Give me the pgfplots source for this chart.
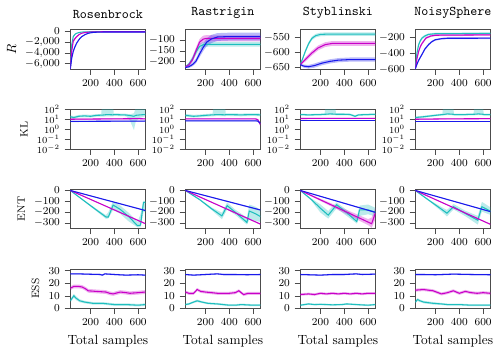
\documentclass[border=0pt]{standalone}
\usepackage{pgfplots}
\pgfplotsset{compat=1.18}
\usepackage{pgfplotstable}
\usepgfplotslibrary{groupplots,fillbetween}

\definecolor{cB}{RGB}{25,25,235}
\definecolor{cM}{RGB}{200,0,200}
\definecolor{cC}{RGB}{30,190,190}

% mean line with shaded band: colour, table, id
\newcommand{\band}[3]{%
  \addplot[draw=none, name path=#3hi, forget plot] table[x=x,y=hi]{#2};
  \addplot[draw=none, name path=#3lo, forget plot] table[x=x,y=lo]{#2};
  \addplot[fill=#1, fill opacity=0.3, draw=none, forget plot] fill between[of=#3hi and #3lo];
  \addplot[#1, line width=0.8pt, forget plot] table[x=x,y=y]{#2};
}

\begin{document}
% ---------- R ----------
\pgfplotstableread{
x y lo hi
30 -7000 -7000 -7000
42 -2500 -2900 -2100
55 -950 -1150 -780
70 -500 -600 -400
84 -320 -390 -250
105 -180 -230 -130
126 -100 -140 -70
160 -60 -85 -40
200 -40 -60 -25
300 -30 -45 -15
660 -30 -45 -15
}\RoC
\pgfplotstableread{
x y lo hi
30 -7000 -7000 -7000
42 -3700 -4100 -3300
55 -1800 -2100 -1500
70 -1300 -1500 -1100
84 -950 -1100 -800
105 -550 -650 -450
126 -320 -390 -260
155 -180 -230 -140
181 -120 -160 -90
220 -70 -95 -50
300 -40 -60 -25
660 -35 -55 -20
}\RoM
\pgfplotstableread{
x y lo hi
30 -7000 -7000 -7000
42 -5000 -5300 -4700
55 -3700 -4000 -3400
70 -2800 -3050 -2550
84 -2150 -2350 -1950
105 -1450 -1600 -1300
126 -950 -1050 -850
155 -560 -640 -490
181 -320 -380 -270
220 -170 -210 -135
265 -100 -130 -75
350 -80 -105 -60
660 -80 -105 -60
}\RoB
\pgfplotstableread{
x y lo hi
30 -225 -228 -222
60 -212 -220 -204
90 -188 -200 -176
120 -155 -170 -140
150 -130 -145 -116
180 -122 -134 -110
220 -120 -131 -109
660 -120 -131 -109
}\RaC
\pgfplotstableread{
x y lo hi
30 -225 -228 -222
60 -215 -222 -208
90 -192 -203 -180
120 -150 -165 -135
150 -110 -125 -95
180 -96 -112 -80
210 -92 -108 -77
260 -92 -106 -78
660 -92 -106 -78
}\RaM
\pgfplotstableread{
x y lo hi
30 -228 -231 -225
60 -224 -230 -218
90 -214 -222 -206
120 -198 -208 -186
150 -165 -180 -150
180 -135 -152 -118
210 -110 -128 -92
250 -95 -114 -76
300 -86 -104 -68
400 -84 -102 -66
660 -84 -102 -66
}\RaB
\pgfplotstableread{
x y lo hi
30 -640 -643 -637
50 -620 -625 -615
72 -596 -602 -590
100 -570 -576 -564
128 -552 -558 -546
160 -543 -549 -537
200 -539 -545 -533
250 -538 -544 -532
660 -538 -544 -532
}\StC
\pgfplotstableread{
x y lo hi
30 -640 -643 -637
72 -623 -630 -616
128 -601 -609 -593
180 -584 -592 -576
240 -573 -581 -565
300 -569 -577 -561
660 -569 -577 -561
}\StM
\pgfplotstableread{
x y lo hi
30 -640 -643 -637
60 -645 -650 -640
100 -647 -653 -641
150 -643 -650 -636
212 -635 -642 -628
280 -629 -636 -622
350 -625 -632 -618
450 -623 -630 -616
660 -623 -630 -616
}\StB
\pgfplotstableread{
x y lo hi
30 -600 -600 -600
44 -400 -430 -370
58 -296 -320 -272
72 -245 -265 -225
86 -212 -230 -195
110 -185 -200 -170
140 -165 -178 -152
200 -155 -167 -143
660 -152 -164 -140
}\NoC
\pgfplotstableread{
x y lo hi
30 -600 -600 -600
44 -470 -490 -450
58 -380 -400 -360
72 -320 -338 -302
86 -280 -296 -264
120 -210 -224 -196
160 -185 -197 -173
200 -175 -187 -163
660 -170 -182 -158
}\NoM
\pgfplotstableread{
x y lo hi
30 -600 -600 -600
44 -540 -555 -525
58 -490 -505 -475
86 -417 -432 -402
110 -350 -365 -335
142 -292 -305 -279
170 -255 -267 -243
198 -232 -243 -221
250 -218 -229 -207
300 -213 -224 -202
660 -212 -223 -201
}\NoB
% ---------- KL ----------
\pgfplotstableread{
x y lo hi
30 18 12 25
60 15 11 21
100 20 15 27
150 22 16 30
200 20 15 28
250 25 18 33
290 26 18 33
294 26 18 150
340 30 20 150
391 28 20 150
395 30 22 40
500 27 20 36
530 24 8 32
565 20 0.8 40
580 25 6 150
620 28 15 150
660 30 20 150
}\KRoC
\pgfplotstableread{
x y lo hi
30 10 8.5 12
200 10.5 9 12.5
400 11 9.5 13
600 11.5 9.5 14
660 11 9.5 13
}\KRoM
\pgfplotstableread{
x y lo hi
30 6 5.2 6.9
300 6.3 5.5 7.2
660 6.5 5.6 7.5
}\KRoB
\pgfplotstableread{
x y lo hi
30 25 18 35
100 20 15 28
150 22 16 30
200 25 18 34
260 28 20 38
265 28 20 150
300 30 22 150
366 28 20 150
370 30 22 40
500 28 20 38
600 30 22 40
660 28 20 38
}\KRaC
\pgfplotstableread{
x y lo hi
30 11 9.5 12.5
300 11 9.5 12.5
620 11 9.5 12.5
640 9 7 11
660 3 2 4.5
}\KRaM
\pgfplotstableread{
x y lo hi
30 7 6 8
620 7 6 8
640 6.5 5.5 7.5
660 4 3.3 5
}\KRaB
\pgfplotstableread{
x y lo hi
30 30 24 38
100 28 22 35
200 30 24 38
235 32 25 40
240 32 25 150
280 35 27 150
325 33 26 150
330 32 25 40
400 32 25 40
450 30 24 38
490 20 16 26
520 28 22 35
600 30 24 38
660 32 25 40
}\KStC
\pgfplotstableread{
x y lo hi
30 12 10.5 13.5
660 12.5 11 14
}\KStM
\pgfplotstableread{
x y lo hi
30 7 6.2 7.9
660 7 6.2 7.9
}\KStB
\pgfplotstableread{
x y lo hi
30 15 12 19
100 18 14 23
200 25 20 32
258 30 24 38
263 30 24 150
300 35 27 150
350 32 25 150
355 30 24 38
450 30 24 38
520 32 25 40
525 32 25 150
560 35 27 150
600 32 25 150
605 30 24 38
660 30 24 38
}\KNoC
\pgfplotstableread{
x y lo hi
30 10 8.5 12
300 11 9.5 13
660 11.5 10 13
}\KNoM
\pgfplotstableread{
x y lo hi
30 6 5.3 6.8
660 6 5.3 6.8
}\KNoB
% ---------- ENT ----------
\pgfplotstableread{
x y lo hi
30 0 -3 3
660 -185 -190 -180
}\ERoB
\pgfplotstableread{
x y lo hi
30 0 -3 3
660 -306 -311 -301
}\ERoM
\pgfplotstableread{
x y lo hi
30 0 -3 3
150 -99 -106 -92
250 -181 -192 -170
330 -245 -262 -228
350 -245 -258 -200
390 -135 -180 -100
450 -175 -215 -140
520 -240 -285 -205
595 -325 -340 -290
620 -320 -340 -220
645 -110 -200 -95
660 -110 -200 -100
}\ERoC
\pgfplotstableread{
x y lo hi
30 0 -3 3
660 -180 -186 -174
}\ERaB
\pgfplotstableread{
x y lo hi
30 0 -3 3
660 -310 -315 -305
}\ERaM
\pgfplotstableread{
x y lo hi
30 0 -3 3
150 -84 -90 -78
250 -168 -180 -156
338 -235 -265 -205
382 -140 -175 -110
450 -201 -225 -178
548 -295 -315 -250
568 -190 -270 -130
620 -215 -280 -150
660 -240 -290 -180
}\ERaC
\pgfplotstableread{
x y lo hi
30 0 -3 3
660 -202 -208 -196
}\EStB
\pgfplotstableread{
x y lo hi
30 0 -3 3
600 -292 -320 -264
630 -307 -345 -250
660 -210 -270 -160
}\EStM
\pgfplotstableread{
x y lo hi
30 0 -3 3
120 -81 -90 -72
200 -165 -205 -130
265 -228 -260 -190
336 -132 -165 -110
420 -205 -235 -180
505 -287 -305 -250
528 -180 -235 -140
600 -180 -220 -130
660 -200 -240 -160
}\EStC
\pgfplotstableread{
x y lo hi
30 0 -3 3
660 -195 -200 -190
}\ENoB
\pgfplotstableread{
x y lo hi
30 0 -3 3
660 -312 -317 -307
}\ENoM
\pgfplotstableread{
x y lo hi
30 0 -3 3
150 -95 -102 -88
250 -173 -193 -153
296 -210 -240 -180
352 -150 -175 -125
450 -212 -237 -187
555 -275 -315 -235
590 -150 -195 -105
660 -190 -225 -155
}\ENoC
% ---------- ESS ----------
\pgfplotstableread{
x y lo hi
30 27.5 26.9 28.1
100 27.5 26.9 28.1
200 27.2 26.6 27.8
280 27 26.4 27.6
300 26.5 25.9 27.1
320 27.5 26.9 28.1
400 27 26.4 27.6
500 26.5 25.9 27.1
600 26.8 26.2 27.4
660 26.5 25.9 27.1
}\SRoB
\pgfplotstableread{
x y lo hi
30 16 14.5 17.5
60 17.5 16 19
100 17.5 16 19
130 17 15.5 18.5
160 15.5 14 17
180 14 12.5 15.5
250 13.5 12 15
330 13 11.5 14.5
360 12 10.5 13.5
390 11.5 10 13
450 13 11.5 14.5
500 12.5 11 14
530 12 10.5 13.5
600 12.5 11 14
660 13 11.5 14.5
}\SRoM
\pgfplotstableread{
x y lo hi
30 6 4.5 7.5
60 10 8.5 11.5
80 8 6.5 9.5
110 6 4.8 7.2
150 5 4 6
220 4 3 5
300 4 3 5
400 3 2 4
500 3 2 4
600 2.5 1.5 3.5
660 3 2 4
}\SRoC
\pgfplotstableread{
x y lo hi
30 27 26.4 27.6
100 26.5 25.9 27.1
200 27 26.4 27.6
300 27.5 26.9 28.1
350 27 26.4 27.6
450 27 26.4 27.6
550 26.8 26.2 27.4
660 27 26.4 27.6
}\SRaB
\pgfplotstableread{
x y lo hi
30 13 11.8 14.2
60 12 10.8 13.2
100 12 10.8 13.2
130 15 13.8 16.2
160 13.5 12.3 14.7
200 13 11.8 14.2
300 12 10.8 13.2
400 12 10.8 13.2
450 12.5 11.3 13.7
480 14 12.8 15.2
520 11 9.8 12.2
560 12 10.8 13.2
600 12 10.8 13.2
660 12 10.8 13.2
}\SRaM
\pgfplotstableread{
x y lo hi
30 3 2.2 3.8
60 3.5 2.7 4.3
100 5 4.2 5.8
130 6 5 7
170 5 4.2 5.8
220 4 3.2 4.8
300 3.5 2.7 4.3
400 2.5 1.7 3.3
450 2.5 1.7 3.3
500 3 2.2 3.8
600 2.5 1.7 3.3
660 2.5 1.7 3.3
}\SRaC
\pgfplotstableread{
x y lo hi
30 27 26.4 27.6
100 26.8 26.2 27.4
200 26.5 25.9 27.1
300 27 26.4 27.6
400 27 26.4 27.6
500 27.5 26.9 28.1
550 27 26.4 27.6
660 27.3 26.7 27.9
}\SStB
\pgfplotstableread{
x y lo hi
30 11 10 12
100 11.5 10.5 12.5
150 11 10 12
200 12 11 13
250 11.5 10.5 12.5
300 12 11 13
350 11.5 10.5 12.5
400 12 11 13
450 11.5 10.5 12.5
500 12 11 13
550 11.5 10.5 12.5
600 12 11 13
660 12 11 13
}\SStM
\pgfplotstableread{
x y lo hi
30 2.5 1.8 3.2
100 3.5 2.8 4.2
150 3 2.3 3.7
200 3.2 2.5 3.9
300 2.8 2.1 3.5
380 3 2.3 3.7
420 3.5 2.8 4.2
500 3 2.3 3.7
600 2.5 1.8 3.2
660 3 2.3 3.7
}\SStC
\pgfplotstableread{
x y lo hi
30 27 26.4 27.6
100 27 26.4 27.6
200 26.8 26.2 27.4
350 27.3 26.7 27.9
500 27 26.4 27.6
660 26.8 26.2 27.4
}\SNoB
\pgfplotstableread{
x y lo hi
30 14.5 13.3 15.7
100 15 13.8 16.2
140 14.5 13.3 15.7
180 14 12.8 15.2
250 11.5 10.3 12.7
300 12.5 11.3 13.7
350 14 12.8 15.2
400 12 10.8 13.2
450 13.5 12.3 14.7
500 12.5 11.3 13.7
550 12 10.8 13.2
600 12.5 11.3 13.7
660 12 10.8 13.2
}\SNoM
\pgfplotstableread{
x y lo hi
30 5 4 6
50 7 5.8 8.2
70 6 5 7
100 5 4 6
140 4.5 3.5 5.5
180 4 3 5
250 3.5 2.7 4.3
300 3 2.2 3.8
400 3 2.2 3.8
500 2.5 1.7 3.3
660 2.5 1.7 3.3
}\SNoC

\begin{tikzpicture}
\begin{groupplot}[
    group style={group size=4 by 4, horizontal sep=30pt, vertical sep=30.2pt, group name=G},
    scale only axis,
    width=56.25pt, height=29.6pt,
    xmin=30, xmax=660,
    xtick={200,400,600},
    tick pos=left,
    tick align=outside,
    ticklabel style={font=\footnotesize},
    scaled ticks=false,
    axis line style={black!70},
    every tick/.style={black!70},
    title style={font=\normalsize, yshift=-1pt},
    ylabel style={font=\footnotesize},
    xlabel style={font=\normalsize},
]
% row 1
\nextgroupplot[title={\texttt{Rosenbrock}}, ylabel={$R$}, ylabel style={font=\normalsize},
  ymin=-7000, ymax=350, ytick={0,-2000,-4000,-6000}]
\band{cC}{\RoC}{c}
\band{cM}{\RoM}{m}
\band{cB}{\RoB}{b}
\nextgroupplot[title={\texttt{Rastrigin}}, ymin=-235, ymax=-52, ytick={-100,-150,-200}]
\band{cC}{\RaC}{c}
\band{cM}{\RaM}{m}
\band{cB}{\RaB}{b}
\nextgroupplot[title={\texttt{Styblinski}}, ymin=-655, ymax=-523, ytick={-550,-600,-650}]
\band{cC}{\StC}{c}
\band{cM}{\StM}{m}
\band{cB}{\StB}{b}
\nextgroupplot[title={\texttt{NoisySphere}}, ymin=-600, ymax=-105, ytick={-200,-400,-600}]
\band{cC}{\NoC}{c}
\band{cM}{\NoM}{m}
\band{cB}{\NoB}{b}
% row 2
\nextgroupplot[ymode=log, ymin=1e-2, ymax=1e2, ytick={1e-2,1e-1,1,10,100}, yminorticks=false,
  yticklabel style={font=\scriptsize, inner ysep=0pt}, ylabel={KL}]
\band{cC}{\KRoC}{c}
\band{cM}{\KRoM}{m}
\band{cB}{\KRoB}{b}
\nextgroupplot[ymode=log, ymin=1e-2, ymax=1e2, ytick={1e-2,1e-1,1,10,100}, yminorticks=false,
  yticklabel style={font=\scriptsize, inner ysep=0pt}]
\band{cC}{\KRaC}{c}
\band{cM}{\KRaM}{m}
\band{cB}{\KRaB}{b}
\nextgroupplot[ymode=log, ymin=1e-2, ymax=1e2, ytick={1e-2,1e-1,1,10,100}, yminorticks=false,
  yticklabel style={font=\scriptsize, inner ysep=0pt}]
\band{cC}{\KStC}{c}
\band{cM}{\KStM}{m}
\band{cB}{\KStB}{b}
\nextgroupplot[ymode=log, ymin=1e-2, ymax=1e2, ytick={1e-2,1e-1,1,10,100}, yminorticks=false,
  yticklabel style={font=\scriptsize, inner ysep=0pt}]
\band{cC}{\KNoC}{c}
\band{cM}{\KNoM}{m}
\band{cB}{\KNoB}{b}
% row 3
\nextgroupplot[ymin=-352, ymax=12, ytick={0,-100,-200,-300}, ylabel={ENT}]
\band{cC}{\ERoC}{c}
\band{cM}{\ERoM}{m}
\band{cB}{\ERoB}{b}
\nextgroupplot[ymin=-352, ymax=12, ytick={0,-100,-200,-300}]
\band{cC}{\ERaC}{c}
\band{cM}{\ERaM}{m}
\band{cB}{\ERaB}{b}
\nextgroupplot[ymin=-352, ymax=12, ytick={0,-100,-200,-300}]
\band{cC}{\EStC}{c}
\band{cM}{\EStM}{m}
\band{cB}{\EStB}{b}
\nextgroupplot[ymin=-352, ymax=12, ytick={0,-100,-200,-300}]
\band{cC}{\ENoC}{c}
\band{cM}{\ENoM}{m}
\band{cB}{\ENoB}{b}
% row 4
\nextgroupplot[ymin=0, ymax=31.5, ytick={0,10,20,30}, xlabel={Total samples}, ylabel={ESS}]
\band{cC}{\SRoC}{c}
\band{cM}{\SRoM}{m}
\band{cB}{\SRoB}{b}
\nextgroupplot[ymin=0, ymax=31.5, ytick={0,10,20,30}, xlabel={Total samples}]
\band{cC}{\SRaC}{c}
\band{cM}{\SRaM}{m}
\band{cB}{\SRaB}{b}
\nextgroupplot[ymin=0, ymax=31.5, ytick={0,10,20,30}, xlabel={Total samples}]
\band{cC}{\SStC}{c}
\band{cM}{\SStM}{m}
\band{cB}{\SStB}{b}
\nextgroupplot[ymin=0, ymax=31.5, ytick={0,10,20,30}, xlabel={Total samples}]
\band{cC}{\SNoC}{c}
\band{cM}{\SNoM}{m}
\band{cB}{\SNoB}{b}
\end{groupplot}
\pgfresetboundingbox
\path[use as bounding box] ([shift={(-52.7pt,-242.5pt)}]G c1r1.north west) rectangle ++(374.25pt,264.75pt);
\end{tikzpicture}
\end{document}
